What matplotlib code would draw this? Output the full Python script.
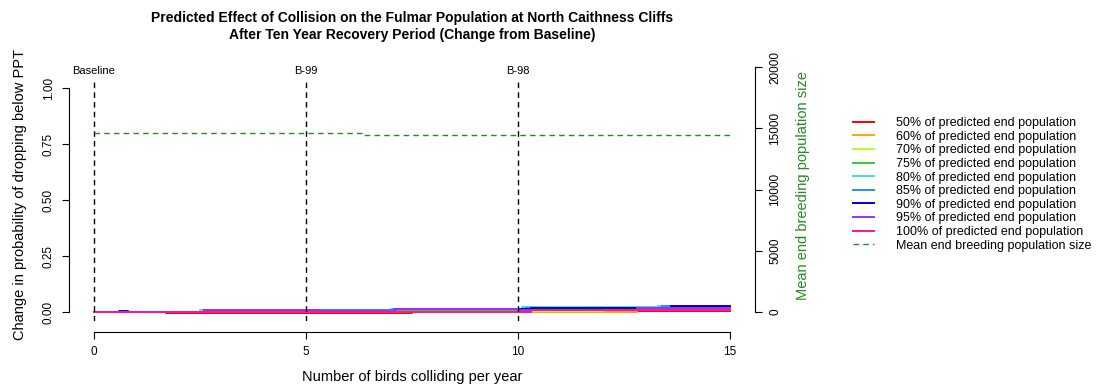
import numpy as np
import matplotlib
matplotlib.use("Agg")
import matplotlib.pyplot as plt
from matplotlib.lines import Line2D

plt.rcParams['font.family'] = ['Liberation Sans', 'DejaVu Sans']

# -------------------------
# data
# -------------------------
labels = ["50% of predicted end population", "60% of predicted end population",
          "70% of predicted end population", "75% of predicted end population",
          "80% of predicted end population", "85% of predicted end population",
          "90% of predicted end population", "95% of predicted end population",
          "100% of predicted end population"]
colours = ['#FF0000', '#FFA500', '#ADFF2F', '#33CC33', '#40E0D0',
           '#1E90FF', '#0000CD', '#9B30FF', '#FF1493']

# step breakpoints (x) and change in probability (y) for each series
x_50 = [0, 1.7, 7.5, 10.3, 15]
y_50 = [0, -0.003, 0.0, 0.004, 0.004]
x_60 = [0, 1.1, 6.8, 12.8, 15]
y_60 = [0, -0.002, 0.0015, 0.008, 0.008]
x_70 = [0, 2.0, 7.0, 12.0, 15]
y_70 = [0, 0.0, 0.003, 0.009, 0.009]
x_75 = [0, 3.0, 7.0, 10.5, 13.6, 14.5, 15]
y_75 = [0, 0.004, 0.010, 0.015, 0.019, 0.024, 0.024]
x_80 = [0, 2.5, 7.0, 10.1, 13.3, 15]
y_80 = [0, 0.008, 0.013, 0.021, 0.028, 0.028]
x_85 = [0, 2.6, 7.05, 10.2, 13.4, 15]
y_85 = [0, 0.009, 0.014, 0.020, 0.027, 0.027]
x_90 = [0, 0.6, 0.8, 2.6, 5.3, 7.1, 10.3, 13.6, 15]
y_90 = [0, 0.0045, 0.002, 0.009, 0.006, 0.013, 0.019, 0.025, 0.025]
x_95 = [0, 0.8, 1.1, 2.6, 5.3, 7.1, 10.0, 12.8, 15]
y_95 = [0, 0.002, 0.0, 0.008, 0.006, 0.012, 0.010, 0.016, 0.016]
x_100 = [0, 0.6, 1.7, 10.3, 15]
y_100 = [0, -0.001, -0.002, 0.007, 0.007]

xs = [x_50, x_60, x_70, x_75, x_80, x_85, x_90, x_95, x_100]
ys = [y_50, y_60, y_70, y_75, y_80, y_85, y_90, y_95, y_100]

# mean end breeding population size
x_pop = [0, 6.35, 15]
y_pop = [14600, 14450, 14450]

scenarios = [0, 5, 10]
scenario_names = ["Baseline", "B-99", "B-98"]

# -------------------------
# figure
# -------------------------
W, H = 1101, 385
fig = plt.figure(figsize=(W / 100, H / 100), dpi=100)

px_left, px_right, px_top, px_bot = 68.6, 755.4, 79, 321
ax = fig.add_axes([px_left / W, 1 - px_bot / H, (px_right - px_left) / W, (px_bot - px_top) / H])
ax.set_xlim(-0.6, 15.6)
ax.set_ylim(-0.04, 1.04)

for x, y, c in zip(xs, ys, colours):
    ax.plot(x, y, drawstyle='steps-post', color=c, lw=1.4)

for s, name in zip(scenarios, scenario_names):
    ax.axvline(s, color='black', lw=1, ls=(0, (4, 3)))
    ax.text(s, 1.012, name, transform=ax.get_xaxis_transform(), ha='center', va='bottom', fontsize=8)

for sp in ['top', 'right']:
    ax.spines[sp].set_visible(False)
ax.spines['left'].set_bounds(0, 1)
ax.spines['bottom'].set_bounds(0, 15)
ax.spines['bottom'].set_position(('outward', 8))
ax.set_xticks([0, 5, 10, 15])
ax.set_yticks([0, 0.25, 0.5, 0.75, 1.0])
ax.set_yticklabels(["0.00", "0.25", "0.50", "0.75", "1.00"], rotation=90, va='center')
ax.tick_params(direction='out', length=5, labelsize=8.5, pad=5)

fig.text(412 / W, 1 - 377 / H, "Number of birds colliding per year",
         ha='center', va='center', fontsize=10.5)
fig.text(20 / W, 1 - 194 / H, "Change in probability of dropping below PPT", rotation=90,
         ha='center', va='center', fontsize=10.5)

# right axis, same pixel scale as reference (0 at y=312, 20000 at y=67)
top2 = 55
ax2 = fig.add_axes([px_left / W, 1 - px_bot / H, (px_right - px_left) / W, (px_bot - top2) / H])
ax2.patch.set_visible(False)
ax2.set_xlim(-0.6, 15.6)
ax2.set_ylim((312 - px_bot) / 245 * 20000, (312 - top2) / 245 * 20000)
pop_line, = ax2.plot(x_pop, y_pop, drawstyle='steps-post', color='#228B22', lw=1, ls=(0, (4, 3)))
for sp in ['top', 'left', 'bottom']:
    ax2.spines[sp].set_visible(False)
ax2.spines['right'].set_bounds(0, 20000)
ax2.xaxis.set_visible(False)
ax2.yaxis.tick_right()
ax2.set_yticks([0, 5000, 10000, 15000, 20000])
ax2.set_yticklabels(["0", "5000", "10000", "15000", "20000"], rotation=90, va='center')
ax2.tick_params(direction='out', length=5, labelsize=8.5, pad=5)
fig.text(803 / W, 1 - 185 / H, "Mean end breeding population size", rotation=90,
         ha='center', va='center', fontsize=10.5, color='#228B22')

fig.text(412 / W, 1 - 18 / H, "Predicted Effect of Collision on the Fulmar Population at North Caithness Cliffs",
         ha='center', va='center', fontsize=10, fontweight='bold')
fig.text(412 / W, 1 - 35 / H, "After Ten Year Recovery Period (Change from Baseline)",
         ha='center', va='center', fontsize=10, fontweight='bold')

handles = [Line2D([], [], color=c, lw=1.4) for c in colours]
handles.append(Line2D([], [], color='#228B22', lw=1, ls=(0, (4, 3))))
fig.legend(handles, labels + ["Mean end breeding population size"],
           loc='upper left', bbox_to_anchor=(853 / W, 1 - 117 / H), frameon=False,
           fontsize=9, handlelength=1.7, handletextpad=1.7, labelspacing=0.13,
           borderpad=0, borderaxespad=0)

fig.savefig("out.png", dpi=100)
